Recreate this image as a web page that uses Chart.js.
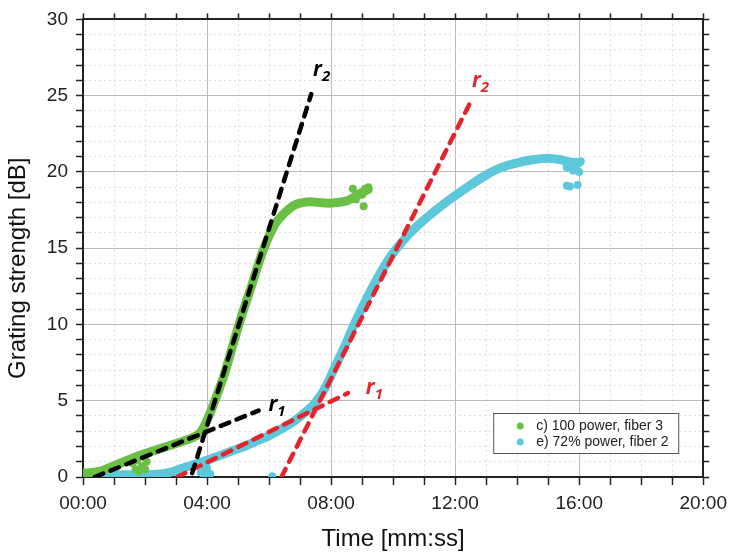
<!DOCTYPE html>
<html>
<head>
<meta charset="utf-8">
<script src="https://cdn.jsdelivr.net/npm/chart.js@4"></script>
<style>
  html, body { margin: 0; padding: 0; background: #fff; }
  #wrap { width: 734px; height: 556px; }
</style>
</head>
<body>
<div id="wrap"><canvas id="gratingChart" width="734" height="556"></canvas></div>
<script>
// time in minutes, strength in dB
const timeC = [0.05, 0.3, 0.6, 0.9, 1.2, 1.5, 1.8, 2.1, 2.4, 2.7, 3.0, 3.3, 3.6, 3.8, 3.95, 4.1, 4.25, 4.4, 4.6, 4.8, 5.0, 5.2, 5.4, 5.6, 5.8, 6.0, 6.2, 6.4, 6.6, 6.8, 7.0, 7.3, 7.6, 7.9, 8.2, 8.5, 8.7, 8.9, 9.1, 9.2];
const strengthC = [0.25, 0.3, 0.4, 0.65, 0.9, 1.15, 1.4, 1.6, 1.8, 2.0, 2.2, 2.4, 2.65, 2.95, 3.5, 4.2, 5.0, 5.8, 7.0, 8.4, 9.8, 11.1, 12.3, 13.6, 14.8, 15.8, 16.6, 17.1, 17.5, 17.8, 17.95, 18.05, 18.0, 17.95, 18.0, 18.1, 18.3, 18.55, 18.75, 18.85];
const strayTimeC = [1.6, 1.7, 1.8, 1.9, 2.0, 2.05, 1.75, 8.8, 9.0, 9.05, 9.2, 8.7, 9.1];
const strayStrengthC = [0.9, 0.5, 0.4, 0.7, 0.5, 1.0, 1.1, 18.2, 18.5, 17.75, 19.0, 18.9, 18.9];

const timeE = [0.05, 0.5, 1.0, 1.5, 2.0, 2.5, 2.8, 3.1, 3.4, 3.7, 4.0, 4.4, 4.8, 5.2, 5.6, 6.0, 6.4, 6.8, 7.2, 7.5, 7.8, 8.1, 8.4, 8.7, 9.0, 9.3, 9.6, 9.9, 10.2, 10.5, 10.8, 11.2, 11.6, 12.0, 12.5, 13.0, 13.5, 14.0, 14.5, 15.0, 15.4, 15.7, 16.0];
const strengthE = [0.25, 0.2, 0.15, 0.15, 0.15, 0.2, 0.3, 0.5, 0.7, 0.9, 1.1, 1.4, 1.7, 2.0, 2.35, 2.7, 3.15, 3.65, 4.3, 4.9, 5.8, 7.1, 8.4, 9.8, 11.1, 12.3, 13.4, 14.4, 15.2, 15.9, 16.5, 17.2, 17.85, 18.45, 19.15, 19.8, 20.3, 20.6, 20.8, 20.9, 20.8, 20.65, 20.6];
const strayTimeE = [3.8, 3.9, 4.0, 4.1, 3.85, 3.95, 6.1, 15.6, 15.7, 15.95, 15.6, 15.8, 16.0, 15.9, 16.05];
const strayStrengthE = [0.3, 0.1, 0.6, 0.2, 0.8, 0.45, 0.05, 19.1, 19.05, 19.15, 20.3, 20.1, 20.0, 20.4, 20.7];

// fitted slopes r1, r2 (start/end points)
const fitNames = ['r1 c', 'r2 c', 'r1 e', 'r2 e'];
const fitTime = [[0.38, 5.66], [3.52, 7.36], [3.04, 8.54], [6.4, 12.5]];
const fitStrength = [[0, 4.35], [0.25, 25.1], [0, 5.5], [0, 24.6]];
const fitColors = ['#000000', '#000000', '#e5232b', '#e5232b'];

// r labels
const labelSub = ['1', '2', '1', '2'];
const labelTime = [5.98, 7.42, 9.12, 12.54];
const labelStrength = [4.35, 26.3, 5.45, 25.6];

const seriesNames = ['c) 100 power, fiber 3', 'e) 72% power, fiber 2'];
const seriesColors = ['#6abf45', '#5cc8d9'];

const xTicks = [0, 4, 8, 12, 16, 20];
const yTicks = [0, 5, 10, 15, 20, 25, 30];

const pts = (xs, ys) => xs.map((x, i) => ({ x: x, y: ys[i] }));
const fmtTime = v => String(v).padStart(2, '0') + ':00';

const datasets = [];
fitNames.forEach((name, i) => {
    datasets.push({
        label: name,
        data: pts(fitTime[i], fitStrength[i]),
        showLine: true,
        borderColor: fitColors[i],
        borderWidth: 4.5,
        borderDash: [9, 8],
        borderCapStyle: 'round',
        pointRadius: 0,
        order: 0
    });
});
[[timeC, strengthC, strayTimeC, strayStrengthC], [timeE, strengthE, strayTimeE, strayStrengthE]].forEach((s, i) => {
    datasets.push({
        label: seriesNames[i],
        data: pts(s[0], s[1]),
        showLine: true,
        borderColor: seriesColors[i],
        borderWidth: 9,
        borderCapStyle: 'round',
        borderJoinStyle: 'round',
        cubicInterpolationMode: 'monotone',
        pointRadius: 0,
        order: 1
    });
    datasets.push({
        label: seriesNames[i] + ' scatter',
        data: pts(s[2], s[3]),
        backgroundColor: seriesColors[i],
        borderWidth: 0,
        pointRadius: 4,
        order: 1
    });
});

const minorDash = ctx => (ctx.tick && ctx.tick.value % (ctx.scale.axis === 'x' ? 4 : 5) !== 0) ? [2, 3] : [];
const gridColor = ctx => (ctx.tick && ctx.tick.value % (ctx.scale.axis === 'x' ? 4 : 5) === 0) ? '#bcbcbc' : '#dedede';

// r1 / r2 labels in italic with subscript
const rLabels = {
    id: 'rLabels',
    afterDatasetsDraw(chart) {
        const { ctx, scales: { x, y } } = chart;
        ctx.save();
        labelSub.forEach((sub, i) => {
            const px = x.getPixelForValue(labelTime[i]);
            const py = y.getPixelForValue(labelStrength[i]);
            ctx.fillStyle = i < 2 ? '#000' : '#e5232b';
            ctx.textBaseline = 'alphabetic';
            ctx.textAlign = 'left';
            ctx.font = 'italic bold 21px "Open Sans"';
            ctx.fillText('r', px, py);
            const w = ctx.measureText('r').width;
            ctx.font = 'italic bold 15px "Open Sans"';
            ctx.fillText(sub, px + w, py + 5);
        });
        ctx.restore();
    }
};

// legend box inside the plot
const boxLegend = {
    id: 'boxLegend',
    afterDatasetsDraw(chart) {
        const { ctx, chartArea: a } = chart;
        const w = 185, h = 40;
        const left = a.right - 25 - w, top = a.bottom - 24 - h;
        ctx.save();
        ctx.fillStyle = '#fff';
        ctx.fillRect(left, top, w, h);
        ctx.strokeStyle = '#555';
        ctx.lineWidth = 1;
        ctx.strokeRect(left + 0.5, top + 0.5, w, h);
        ctx.font = '14px "Liberation Sans", Arial, sans-serif';
        ctx.textBaseline = 'middle';
        seriesNames.forEach((name, i) => {
            const cy = top + 13 + i * 16;
            ctx.fillStyle = seriesColors[i];
            ctx.beginPath();
            ctx.arc(left + 27, cy, 3.5, 0, Math.PI * 2);
            ctx.fill();
            ctx.fillStyle = '#222';
            ctx.fillText(name, left + 43, cy);
        });
        ctx.restore();
    }
};

const tickFont = { family: '"Liberation Sans", Arial, sans-serif', size: 19 };
const titleFont = { family: '"Liberation Sans", Arial, sans-serif', size: 24 };

new Chart(document.getElementById('gratingChart').getContext('2d'), {
    type: 'scatter',
    data: { datasets: datasets },
    plugins: [rLabels, boxLegend],
    options: {
        responsive: false,
        animation: false,
        layout: { padding: 0 },
        plugins: {
            legend: { display: false },
            tooltip: { enabled: false }
        },
        scales: {
            x: {
                type: 'linear',
                min: 0,
                max: 20,
                ticks: {
                    stepSize: 1,
                    autoSkip: false,
                    maxRotation: 0,
                    padding: 7,
                    color: '#222',
                    font: tickFont,
                    callback: v => xTicks.includes(v) ? fmtTime(v) : ''
                },
                grid: { color: gridColor, lineWidth: 1, tickLength: 8, tickColor: '#222', tickWidth: 1.5 },
                border: { color: '#222', width: 2, dash: minorDash },
                title: { display: true, text: 'Time [mm:ss]', color: '#111', font: titleFont, padding: { top: 2, bottom: 2 } },
                afterFit: s => { s.height = 79; }
            },
            x2: {
                type: 'linear',
                position: 'top',
                min: 0,
                max: 20,
                ticks: { stepSize: 1, display: false },
                grid: { drawOnChartArea: false, tickLength: 6, tickColor: '#222', tickWidth: 1.5 },
                border: { color: '#222', width: 2 },
                afterFit: s => { s.height = 15; }
            },
            y: {
                type: 'linear',
                min: 0,
                max: 30,
                ticks: {
                    stepSize: 1,
                    autoSkip: false,
                    padding: 8,
                    color: '#222',
                    font: tickFont,
                    callback: v => yTicks.includes(v) ? String(v) : ''
                },
                grid: { color: gridColor, lineWidth: 1, tickLength: 7, tickColor: '#222', tickWidth: 1.5 },
                border: { color: '#222', width: 2, dash: minorDash },
                title: { display: true, text: 'Grating strength [dB]\u00a0\u00a0\u00a0\u00a0\u00a0\u00a0', color: '#111', font: titleFont, padding: { top: 4, bottom: 4 } },
                afterFit: s => { s.width = 83; }
            },
            y2: {
                type: 'linear',
                position: 'right',
                min: 0,
                max: 30,
                ticks: { stepSize: 1, display: false },
                grid: { drawOnChartArea: false, tickLength: 6, tickColor: '#222', tickWidth: 1.5 },
                border: { color: '#222', width: 2 },
                afterFit: s => { s.width = 26; }
            }
        }
    }
});
</script>
</body>
</html>
